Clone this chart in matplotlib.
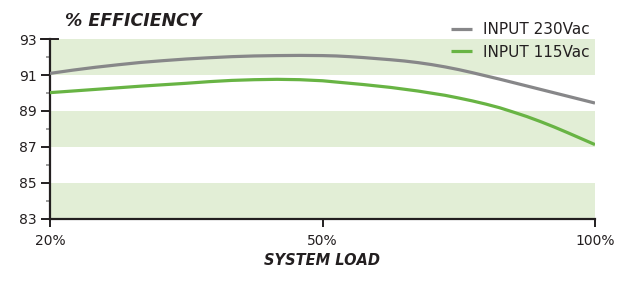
import matplotlib
matplotlib.use("Agg")
import matplotlib.pyplot as plt
import numpy as np

# system load (%) and efficiency (%)
load = [20, 22.5, 25, 27.5, 30, 32.5, 35, 37.5, 40, 42.5, 45, 47.5,
        50, 52.5, 55, 57.5, 60, 62.5, 65, 67.5, 70, 72.5, 75, 77.5,
        80, 82.5, 85, 87.5, 90, 92.5, 95, 97.5, 100]
eff_230 = [91.09, 91.27, 91.43, 91.57, 91.70, 91.80, 91.89, 91.96, 92.02,
           92.06, 92.08, 92.09, 92.08, 92.06, 92.02, 91.97, 91.91, 91.85,
           91.78, 91.69, 91.58, 91.45, 91.30, 91.13, 90.95, 90.77, 90.58,
           90.39, 90.20, 90.01, 89.82, 89.63, 89.44]
eff_115 = [90.02, 90.11, 90.20, 90.29, 90.38, 90.46, 90.54, 90.63, 90.70,
           90.74, 90.76, 90.74, 90.68, 90.61, 90.54, 90.47, 90.39, 90.31,
           90.21, 90.11, 89.99, 89.87, 89.72, 89.56, 89.38, 89.18, 88.94,
           88.69, 88.41, 88.11, 87.79, 87.46, 87.13]

x_ticks = [20, 50, 100]
x_tick_labels = ["20%", "50%", "100%"]
y_ticks = [83, 85, 87, 89, 91, 93]
y_minor = [84, 86, 88, 90, 92]
bands = [(83, 85), (87, 89), (91, 93)]

GRAY = "#878789"
GREEN = "#68b444"
BAND = "#e2eed6"
INK = "#231f20"


def fwd(v):
    return np.interp(v, x_ticks, [0, 1, 2])


def inv(v):
    return np.interp(v, [0, 1, 2], x_ticks)


fig = plt.figure(figsize=(6.25, 2.85), dpi=100)
ax = fig.add_axes([0.08, 0.232, 0.872, 0.631])
ax.set_xscale("function", functions=(fwd, inv))

for lo, hi in bands:
    ax.axhspan(lo, hi, color=BAND, lw=0, zorder=0)

ax.plot(load, eff_230, color=GRAY, lw=2.3, label="INPUT 230Vac",
        solid_capstyle="butt", zorder=3)
ax.plot(load, eff_115, color=GREEN, lw=2.3, label="INPUT 115Vac",
        solid_capstyle="butt", zorder=3)

ax.set_xlim(20, 100)
ax.set_ylim(83, 93)
ax.set_xticks(x_ticks)
ax.set_xticklabels(x_tick_labels)
ax.set_yticks(y_ticks)
ax.set_yticks(y_minor, minor=True)
ax.xaxis.set_minor_locator(matplotlib.ticker.NullLocator())

for s in ["top", "right"]:
    ax.spines[s].set_visible(False)
for s in ["left", "bottom"]:
    ax.spines[s].set_color(INK)
    ax.spines[s].set_linewidth(1.6)

ax.tick_params(axis="both", which="major", width=1.4, color=INK,
               labelsize=10, labelcolor=INK)
ax.tick_params(axis="y", which="major", length=6.5, pad=3)
ax.tick_params(axis="x", which="major", length=5.8, pad=5)
ax.tick_params(axis="y", which="minor", length=3, width=1.2, color="#8c8c8c")

# cap at top of the y axis
ax.plot([-0.017, 0.015], [1, 1], transform=ax.transAxes, color=INK,
        lw=1.4, clip_on=False)

fig.text(0.104, 0.928, "% EFFICIENCY", fontsize=12.5, style="italic",
         fontweight="bold", color=INK, ha="left", va="center")
ax.set_xlabel("SYSTEM LOAD", fontsize=10.5, style="italic",
              fontweight="bold", color=INK, labelpad=4)

leg = ax.legend(loc="upper right", bbox_to_anchor=(0.99, 1.095), frameon=False,
                fontsize=11, handlelength=1.4, handletextpad=0.7,
                labelspacing=0.5, borderaxespad=0, borderpad=0)
for t in leg.get_texts():
    t.set_color(INK)

plt.savefig("out.png", dpi=100)
plt.close()
